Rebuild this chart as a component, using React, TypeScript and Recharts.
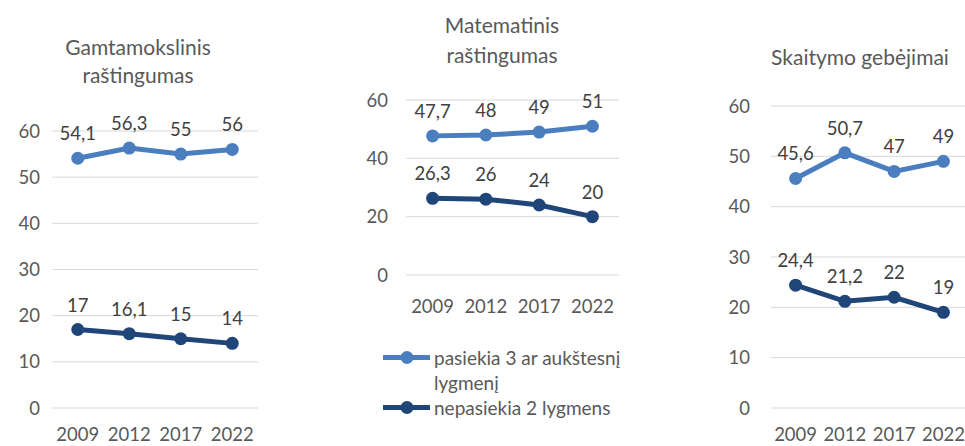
import { LineChart, Line, XAxis, YAxis, CartesianGrid, LabelList, Legend } from 'recharts';

const YEARS = ['2009', '2012', '2017', '2022'];

const SCIENCE_HIGH = [54.1, 56.3, 55, 56];
const SCIENCE_LOW = [17, 16.1, 15, 14];
const MATH_HIGH = [47.7, 48, 49, 51];
const MATH_LOW = [26.3, 26, 24, 20];
const READING_HIGH = [45.6, 50.7, 47, 49];
const READING_LOW = [24.4, 21.2, 22, 19];

const TICKS_10 = [0, 10, 20, 30, 40, 50, 60];
const TICKS_20 = [0, 20, 40, 60];

const HIGH_NAME = 'pasiekia 3 ar aukštesnį lygmenį';
const LOW_NAME = 'nepasiekia 2 lygmens';

const LIGHT = '#4a7ebf';
const DARK = '#1f4579';
const TEXT = '#595959';
const FONT = 'Lato, "Open Sans", sans-serif';
const FS = 18.5;

const build = (high: number[], low: number[]) =>
    YEARS.map((year, i) => ({ year, high: high[i], low: low[i] }));

const fmt = (v: any) => String(v).replace('.', ',');

const LegendBox = ({ payload }: any) => {
    // keep the order of the series, high first
    const items = [...(payload || [])].sort((a: any, b: any) => (a.dataKey === 'high' ? -1 : 1) - (b.dataKey === 'high' ? -1 : 1));
    return (
        <div style={{ fontFamily: FONT, fontSize: 19, color: TEXT, lineHeight: '25px' }}>
            {items.map((entry: any, i: number) => (
                <div key={`leg-${i}`} style={{ display: 'flex', alignItems: 'flex-start' }}>
                    <svg width={51} height={25} style={{ flex: '0 0 auto' }}>
                        <line x1={0} y1={12.5} x2={47} y2={12.5} stroke={entry.color} strokeWidth={5} />
                        <circle cx={24} cy={12.5} r={6.5} fill={entry.color} />
                    </svg>
                    <span style={{ width: 200 }}>{entry.value}</span>
                </div>
            ))}
        </div>
    );
};

interface PanelProps {
    data: { year: string; high: number; low: number }[];
    left: number;
    width: number;
    top: number;
    bottom: number;
    right: number;
    yWidth: number;
    yMargin: number;
    xMargin: number;
    pad: number;
    ticks: number[];
    legend?: boolean;
}

function Panel({ data, left, width, top, bottom, right, yWidth, yMargin, xMargin, pad, ticks, legend }: PanelProps) {
    const tick = { fill: TEXT, fontSize: FS, fontFamily: FONT };
    return (
        <div style={{ position: 'absolute', left, top: 0 }}>
            <LineChart width={width} height={446} data={data} margin={{ top, right, bottom, left: 0 }}>
                <CartesianGrid vertical={false} stroke="#d9d9d9" />
                <XAxis
                    dataKey="year"
                    axisLine={false}
                    tickLine={false}
                    tickSize={0}
                    tickMargin={xMargin}
                    height={38}
                    padding={{ left: pad, right: pad }}
                    tick={tick}
                    interval={0}
                />
                <YAxis
                    domain={[0, 60]}
                    ticks={ticks}
                    axisLine={false}
                    tickLine={false}
                    tickSize={0}
                    tickMargin={yMargin}
                    width={yWidth}
                    tick={tick}
                />
                {legend && (
                    <Legend
                        layout="vertical"
                        align="center"
                        verticalAlign="middle"
                        content={<LegendBox />}
                        wrapperStyle={{ left: 43, top: 345, width: 260 }}
                    />
                )}
                <Line dataKey="high" name={HIGH_NAME} stroke={LIGHT} strokeWidth={5} isAnimationActive={false}
                    dot={{ r: 6.5, fill: LIGHT, stroke: LIGHT, strokeWidth: 0 }}>
                    <LabelList dataKey="high" position="top" offset={18} formatter={fmt}
                        style={{ fill: '#404040', fontSize: FS, fontFamily: FONT }} />
                </Line>
                <Line dataKey="low" name={LOW_NAME} stroke={DARK} strokeWidth={5} isAnimationActive={false}
                    dot={{ r: 6.5, fill: DARK, stroke: DARK, strokeWidth: 0 }}>
                    <LabelList dataKey="low" position="top" offset={18} formatter={fmt}
                        style={{ fill: '#404040', fontSize: FS, fontFamily: FONT }} />
                </Line>
            </LineChart>
        </div>
    );
}

const titleStyle = {
    position: 'absolute' as const,
    fontFamily: FONT,
    fontSize: 21,
    color: TEXT,
    textAlign: 'center' as const,
    width: 240,
};

export default function App() {
    return (
        <div style={{ position: 'absolute', left: 0, top: 0, width: 965, height: 446, overflow: 'hidden', background: '#fff' }}>
            <div style={{ ...titleStyle, left: 18, top: 33, lineHeight: '28px' }}>
                Gamtamokslinis<br />raštingumas
            </div>
            <div style={{ ...titleStyle, left: 382, top: 10, lineHeight: '30px' }}>
                Matematinis<br />raštingumas
            </div>
            <div style={{ ...titleStyle, left: 740, top: 43, lineHeight: '28px' }}>
                Skaitymo gebėjimai
            </div>
            <Panel data={build(SCIENCE_HIGH, SCIENCE_LOW)} left={0} width={270} top={131} bottom={0} right={12}
                yWidth={52} yMargin={12} xMargin={20} pad={25.75} ticks={TICKS_10} />
            <Panel data={build(MATH_HIGH, MATH_LOW)} left={340} width={290} top={100} bottom={133} right={11}
                yWidth={66} yMargin={18} xMargin={25} pad={26.6} ticks={TICKS_20} legend />
            <Panel data={build(READING_HIGH, READING_LOW)} left={690} width={280} top={106} bottom={0} right={2}
                yWidth={81} yMargin={21} xMargin={20} pad={24.6} ticks={TICKS_10} />
        </div>
    );
}
